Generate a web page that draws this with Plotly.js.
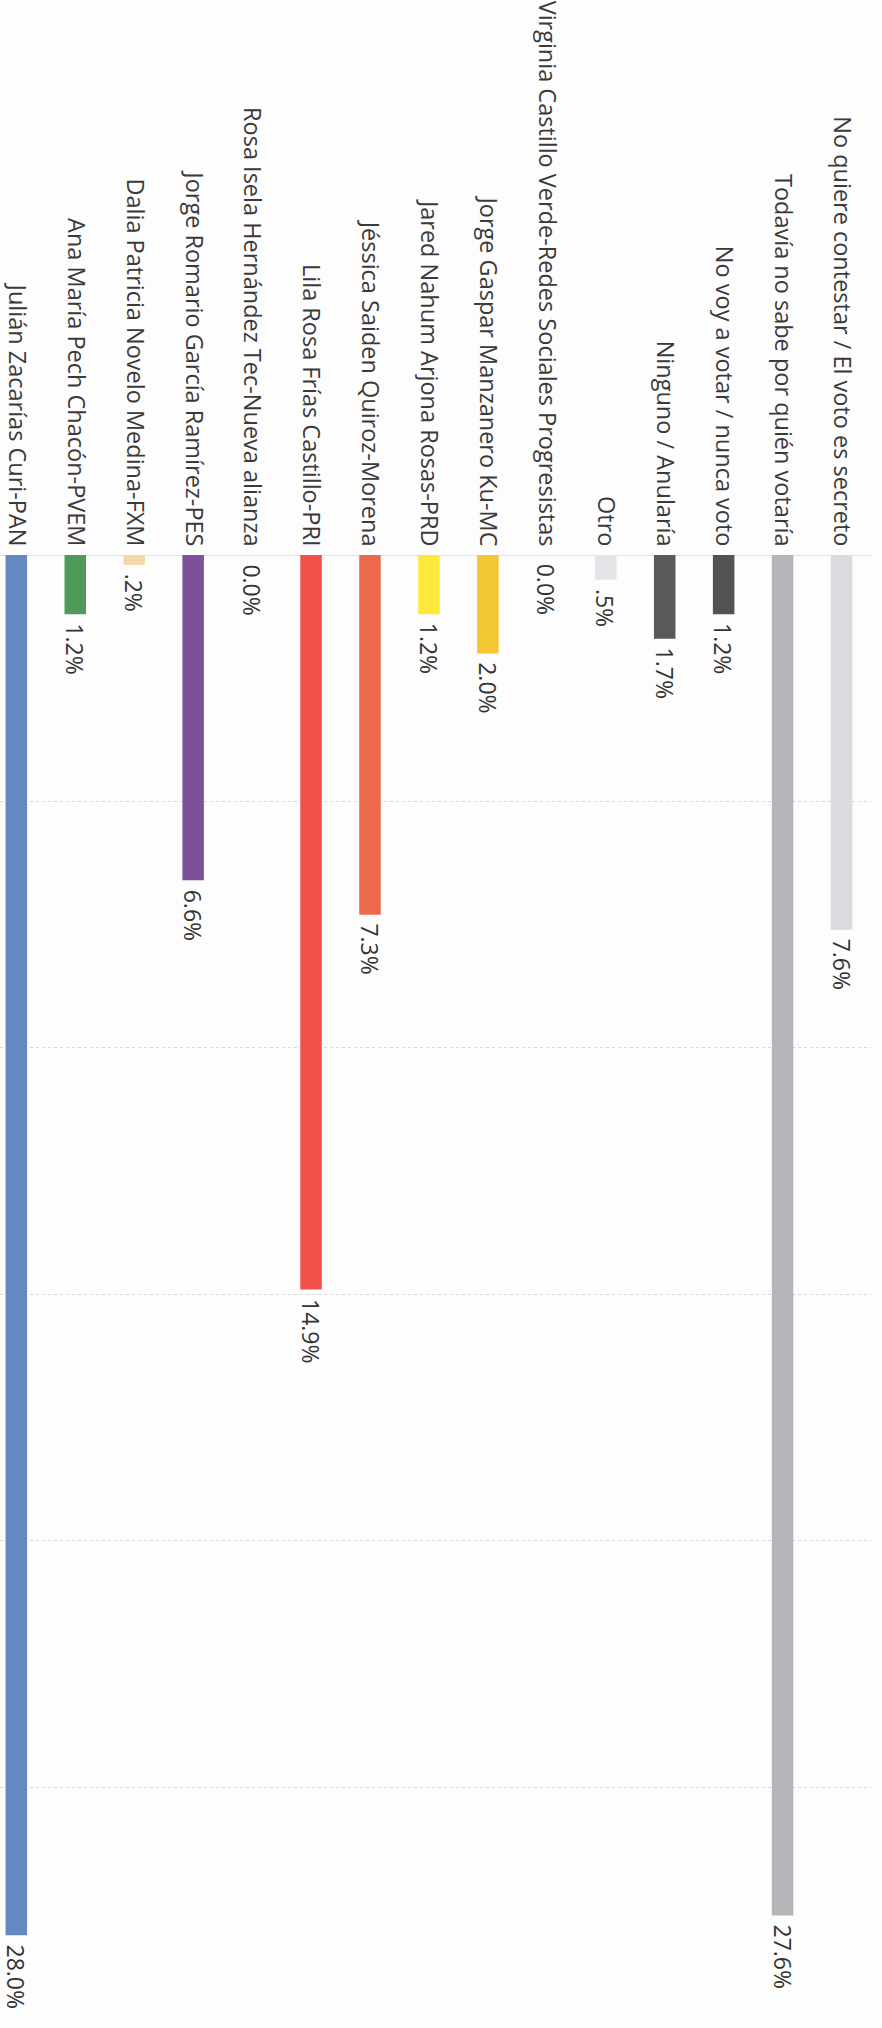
<!DOCTYPE html>
<html>
<head>
<meta charset="utf-8">
<script src="https://cdn.plot.ly/plotly-3.0.1.min.js"></script>
<style>
  html, body { margin: 0; padding: 0; background: #fdfdfd; }
  #chart { width: 882px; height: 2028px; }
</style>
</head>
<body>
<div id="chart"></div>
<script>
// Categories in the order of the original chart (rotated page: right to left)
const categories = [
  "No quiere contestar / El voto es secreto",
  "Todavía no sabe por quién votaría",
  "No voy a votar / nunca voto",
  "Ninguno / Anularía",
  "Otro",
  "Virginia Castillo Verde-Redes Sociales Progresistas",
  "Jorge Gaspar Manzanero Ku-MC",
  "Jared Nahum Arjona Rosas-PRD",
  "Jéssica Saiden Quiroz-Morena",
  "Lila Rosa Frías Castillo-PRI",
  "Rosa Isela Hernández Tec-Nueva alianza",
  "Jorge Romario García Ramírez-PES",
  "Dalia Patricia Novelo Medina-FXM",
  "Ana María Pech Chacón-PVEM",
  "Julián Zacarías Curi-PAN"
];
const values = [7.6, 27.6, 1.2, 1.7, 0.5, 0.0, 2.0, 1.2, 7.3, 14.9, 0.0, 6.6, 0.2, 1.2, 28.0];
const valueLabels = ["7.6%", "27.6%", "1.2%", "1.7%", ".5%", "0.0%", "2.0%", "1.2%", "7.3%", "14.9%", "0.0%", "6.6%", ".2%", "1.2%", "28.0%"];
const barColors = ["#dadadf", "#b5b5b9", "#535355", "#5a5a5c", "#e3e3e8", "#cccccc", "#f3c633", "#fde93c", "#ea6a4b", "#f2504a", "#cccccc", "#7b529a", "#f1d8a6", "#4f9a58", "#6489c0"];
const gridValues = [5, 10, 15, 20, 25];

const trace = {
  type: "bar",
  x: categories,
  y: values,
  textposition: "none",
  cliponaxis: false,
  marker: {
    color: barColors,
    line: { width: 0 }
  },
  hoverinfo: "none"
};

const annotations = categories.map((c, i) => ({
  x: c,
  y: values[i],
  xref: "x",
  yref: "y",
  text: valueLabels[i],
  showarrow: false,
  textangle: 90,
  xanchor: "center",
  yanchor: "top",
  yshift: -7,
  font: { family: "Open Sans, sans-serif", size: 23, color: "#333333" }
}));

const layout = {
  width: 882,
  height: 2028,
  margin: { l: 0, r: 11, t: 555, b: 0, pad: 0 },
  paper_bgcolor: "#fdfdfd",
  plot_bgcolor: "#fdfdfd",
  showlegend: false,
  bargap: 0.635,
  font: { family: "Open Sans, sans-serif", color: "#3a3a3a" },
  annotations: annotations,
  xaxis: {
    type: "category",
    side: "top",
    range: [14.277, -0.5],
    tickangle: 90,
    ticks: "",
    showgrid: false,
    zeroline: false,
    showline: false,
    automargin: false,
    ticklabelstandoff: 4,
    tickfont: { family: "Open Sans, sans-serif", size: 23.5, color: "#3a3a3a" }
  },
  yaxis: {
    range: [29.88, 0],
    tickvals: gridValues,
    showticklabels: false,
    ticks: "",
    showgrid: true,
    gridcolor: "#d6d6d6",
    gridwidth: 1,
    griddash: "dot",
    zeroline: true,
    zerolinecolor: "#e4e4e4",
    zerolinewidth: 1,
    automargin: false
  }
};

Plotly.newPlot("chart", [trace], layout, { staticPlot: true, displayModeBar: false });
</script>
</body>
</html>
